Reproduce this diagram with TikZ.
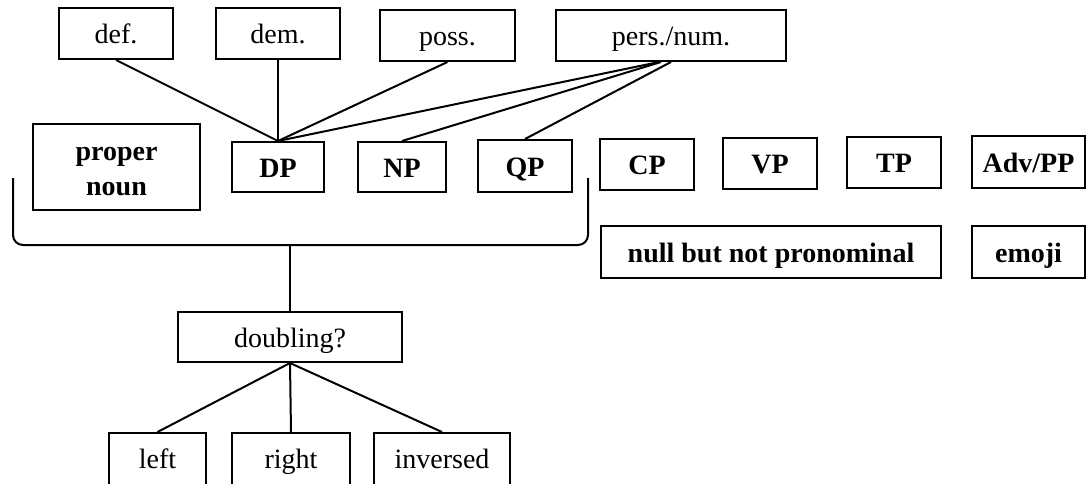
\documentclass[tikz,border=0pt]{standalone}
\usepackage{fontspec}
\setmainfont{Liberation Serif}
\begin{document}
\begin{tikzpicture}[x=0.5pt,y=-0.5pt,
  box/.style={draw,line width=1pt,inner sep=0pt,text height=13.5pt,text depth=3.5pt,font=\fontsize{14}{17.5}\selectfont},
  bbox/.style={box,font=\fontsize{14}{17.5}\selectfont\bfseries},
  lowbox/.style={box,text height=11pt,text depth=6pt},
  conn/.style={line width=1pt}]
\useasboundingbox (0,0) rectangle (1088,483);
\clip (0,0) rectangle (1088,483);
% top row
\node[box,minimum width=57pt,minimum height=25.5pt] (def) at (116,33.5) {def.};
\node[box,minimum width=62pt,minimum height=25.5pt] (dem) at (278,33.5) {dem.};
\node[box,minimum width=67.5pt,minimum height=25.5pt] (poss) at (447.5,35.5) {poss.};
\node[box,minimum width=115pt,minimum height=25.5pt] (pers) at (671,35.5) {pers./num.};
% middle row
\node[draw,line width=1pt,inner sep=0pt,font=\fontsize{14}{17.5}\selectfont\bfseries,text height=28pt,text depth=0pt,minimum width=83.5pt,minimum height=43pt,align=center] (proper) at (116.5,167) {proper\\noun};
\node[bbox,minimum width=46pt,minimum height=25pt] (DP) at (278,167) {DP};
\node[bbox,minimum width=44pt,minimum height=25pt] (NP) at (402,167) {NP};
\node[bbox,minimum width=47pt,minimum height=26pt] (QP) at (525,166) {QP};
\node[bbox,minimum width=47pt,minimum height=25.5pt] (CP) at (647,164.5) {CP};
\node[bbox,minimum width=47pt,minimum height=25.5pt] (VP) at (770,163.5) {VP};
\node[bbox,minimum width=47pt,minimum height=25.5pt] (TP) at (894,162.5) {TP};
\node[bbox,minimum width=56.5pt,minimum height=26pt] (advpp) at (1028.5,162) {Adv/PP};
\node[bbox,minimum width=170pt,minimum height=26pt] (null) at (771,252) {null but not pronominal};
\node[bbox,minimum width=56.5pt,minimum height=26pt] (emoji) at (1028.5,252) {emoji};
% lower part
\node[box,minimum width=112pt,minimum height=25pt] (doubling) at (290,337) {doubling?};
\node[lowbox,minimum width=48.5pt,minimum height=30pt] (left) at (157.5,463) {left};
\node[lowbox,minimum width=59pt,minimum height=30pt] (right) at (291,463) {right};
\node[lowbox,minimum width=68pt,minimum height=30pt] (inversed) at (442,463) {inversed};
% connectors top
\draw[conn] (def.south) -- (DP.north);
\draw[conn] (dem.south) -- (DP.north);
\draw[conn] (poss.south) -- (DP.north);
\draw[conn] ([xshift=-6pt]pers.south) -- (DP.north);
\draw[conn] ([xshift=-5pt]pers.south) -- (NP.north);
\draw[conn] (pers.south) -- (QP.north);
% bracket
\coordinate (brace) at (290,245);
\draw[conn,rounded corners=5pt] (13,178) -- (13,245) -- (588,245) -- (588,178);
\draw[conn] (brace) -- (doubling.north);
% bottom connectors
\draw[conn] (doubling.south) -- (left.north);
\draw[conn] (doubling.south) -- (right.north);
\draw[conn] (doubling.south) -- (inversed.north);
\end{tikzpicture}
\end{document}
